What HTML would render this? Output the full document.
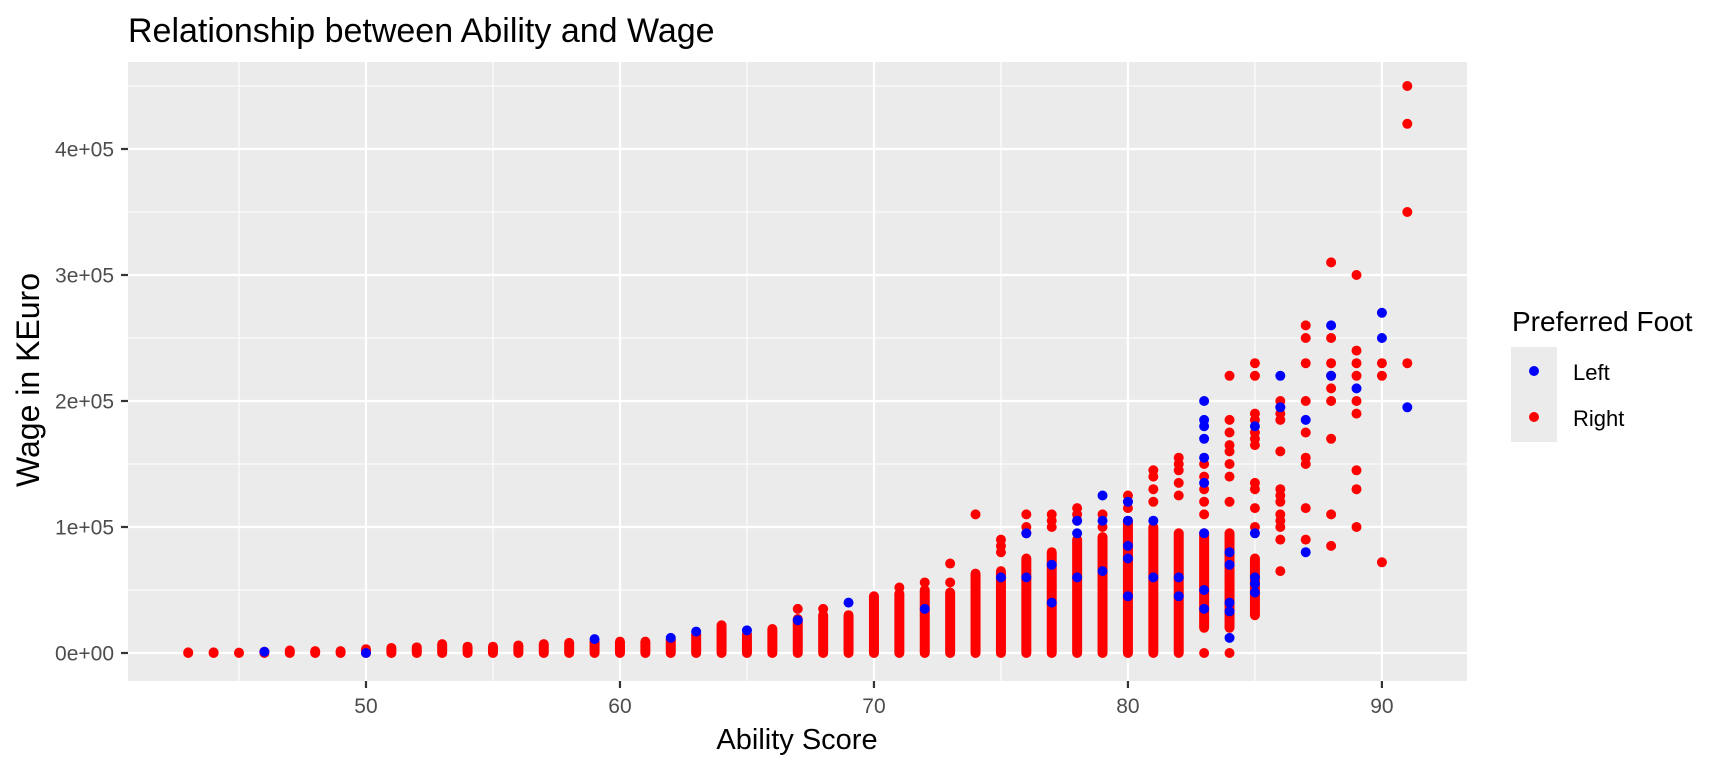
<!DOCTYPE html>
<html><head><meta charset="utf-8"><style>
html,body{margin:0;padding:0;background:#fff;}
svg{display:block;font-family:"Liberation Sans",Arial,sans-serif;}
</style></head><body>
<svg id="chart" width="1728" height="768" xmlns="http://www.w3.org/2000/svg">
<text x="128" y="42" font-size="34" fill="#000">Relationship between Ability and Wage</text>
<rect x="128" y="62" width="1339" height="619" fill="#ebebeb"/>
<g id="grid"></g>
<g id="marks"></g>
<g id="axes"></g>
<text x="797" y="749" font-size="29" text-anchor="middle" fill="#000">Ability Score</text>
<text transform="translate(39,380) rotate(-90)" font-size="32" text-anchor="middle" fill="#000">Wage in KEuro</text>
<g>
<text x="1512" y="331" font-size="28" fill="#000">Preferred Foot</text>
<rect x="1511" y="347" width="46" height="95" fill="#ebebeb"/>
<circle cx="1534" cy="371" r="5" fill="#0000ff"/>
<text x="1573" y="380" font-size="22" fill="#000">Left</text>
<circle cx="1534" cy="417" r="5" fill="#ff0000"/>
<text x="1573" y="426" font-size="22" fill="#000">Right</text>
</g>
</svg>
<script>
const xTicks = [50, 60, 70, 80, 90];
const yTicks = [0, 100000, 200000, 300000, 400000];
const yTickLabels = ["0e+00", "1e+05", "2e+05", "3e+05", "4e+05"];
// dense red columns: score, min (K), max (K)
const denseScores = [43,44,45,46,47,48,49,50,51,52,53,54,55,56,57,58,59,60,61,62,63,64,65,66,67,68,69,70,71,72,73,74,75,76,77,78,79,80,81,82,83,84,85];
const denseMin =    [0,0,0,0,0,0,0,0,0,0,0,0,0,0,0,0,0,0,0,0,0,0,0,0,0,0,0,0,0,0,0,0,0,0,0,0,0,0,0,0,20,20,30];
const denseMax =    [0.5,0.5,0.3,1,2,1.5,1.5,3,4,4.5,7,5,5,6,7,8,9,9,9,11,15,20,15,19,27,30,30,45,47,50,48,63,65,75,80,90,92,105,100,95,95,95,75];
// individual red points
const redScores = [64,67,68,71,72,73,73,74,75,75,75,76,76,76,77,77,77,78,78,78,79,79,80,80,80,81,81,81,81,82,82,82,82,82,83,83,83,83,83,83,84,84,84,84,84,84,84,84,84,85,85,85,85,85,85,85,85,85,85,85,86,86,86,86,86,86,86,86,86,86,86,86,86,87,87,87,87,87,87,87,87,87,88,88,88,88,88,88,88,88,88,89,89,89,89,89,89,89,89,89,90,90,90,91,91,91,91];
const redValues = [22,35,35,52,56,71,56,110,90,85,80,110,100,95,110,105,100,115,110,105,110,100,125,120,115,145,140,130,120,155,150,145,135,125,150,140,130,120,110,0,220,185,175,165,160,150,140,120,0,230,220,190,185,175,170,165,135,130,115,100,200,195,190,185,160,130,125,120,110,105,100,90,65,260,250,230,200,175,155,150,115,90,310,250,230,220,210,200,170,110,85,300,240,230,220,200,190,145,130,100,230,220,72,450,420,350,230];
// individual blue points
const blueScores = [46,50,59,62,63,65,67,69,72,75,76,76,77,77,78,78,78,79,79,79,80,80,80,80,80,81,81,82,82,83,83,83,83,83,83,83,83,83,84,84,84,84,84,85,85,85,85,85,86,86,87,87,88,88,89,90,90,91];
const blueValues = [1,0,11,12,17,18,26,40,35,60,95,60,70,40,105,95,60,125,105,65,120,105,85,75,45,105,60,60,45,200,185,180,170,155,135,95,50,35,12,33,40,70,80,180,95,60,55,48,220,195,185,80,260,220,210,270,250,195];

const NS = "http://www.w3.org/2000/svg";
const PX0 = 128, PX1 = 1467, PY0 = 62, PY1 = 681;
const XMIN = 40.63, XMAX = 93.35;
const Y0PX = 653, PXPER = 126 / 100000;
function xs(v){ return PX0 + (v - XMIN) / (XMAX - XMIN) * (PX1 - PX0); }
function ys(v){ return Y0PX - v * PXPER; }
function mk(tag, attrs, parent){ const e = document.createElementNS(NS, tag); for (const k in attrs) e.setAttribute(k, attrs[k]); parent.appendChild(e); return e; }

const grid = document.getElementById('grid'), marks = document.getElementById('marks'), axes = document.getElementById('axes');
for (let i = 0; i < xTicks.length + 1; i++) {
  const v = xTicks[0] - 5 + i * 10;
  if (v < XMIN || v > XMAX) continue;
  const l = mk('line', {x1: xs(v), x2: xs(v), y1: PY0, y2: PY1, stroke: '#fff', 'stroke-width': 1.1}, grid);
  
  
}
for (let i = 0; i < yTicks.length; i++) {
  const v = yTicks[i] + 50000;
  if (ys(v) < PY0) continue;
  const l = mk('line', {x1: PX0, x2: PX1, y1: ys(v), y2: ys(v), stroke: '#fff', 'stroke-width': 1.1}, grid);
  
  
}
xTicks.forEach(v => {
  const l = mk('line', {x1: xs(v), x2: xs(v), y1: PY0, y2: PY1, stroke: '#fff', 'stroke-width': 2.2}, grid);
  
  
  const t = mk('line', {x1: xs(v), x2: xs(v), y1: PY1, y2: PY1 + 7, stroke: '#333', 'stroke-width': 2.2}, axes);
  
  
  const tx = mk('text', {x: xs(v), y: 713, 'font-size': 21, 'text-anchor': 'middle', fill: '#4d4d4d'}, axes);
  tx.textContent = v;
  
  
});
yTicks.forEach((v, i) => {
  const l = mk('line', {x1: PX0, x2: PX1, y1: ys(v), y2: ys(v), stroke: '#fff', 'stroke-width': 2.2}, grid);
  
  
  const t = mk('line', {x1: PX0 - 7, x2: PX0, y1: ys(v), y2: ys(v), stroke: '#333', 'stroke-width': 2.2}, axes);
  
  
  const tx = mk('text', {x: 114, y: ys(v) + 7.5, 'font-size': 21, 'text-anchor': 'end', fill: '#4d4d4d'}, axes);
  tx.textContent = yTickLabels[i];
  
  
});
const R = 5;
denseScores.forEach((s, i) => {
  const top = ys(denseMax[i] * 1000), bot = ys(denseMin[i] * 1000);
  const r = mk('rect', {x: xs(s) - R, y: top - R, width: 2 * R, height: (bot - top) + 2 * R, rx: R, ry: R, fill: '#ff0000'}, marks);
  
  
});
redScores.forEach((s, i) => {
  const c = mk('circle', {cx: xs(s), cy: ys(redValues[i] * 1000), r: R, fill: '#ff0000'}, marks);
  
  
});
blueScores.forEach((s, i) => {
  const c = mk('circle', {cx: xs(s), cy: ys(blueValues[i] * 1000), r: R, fill: '#0000ff'}, marks);
  
  
});
</script>
</body></html>
